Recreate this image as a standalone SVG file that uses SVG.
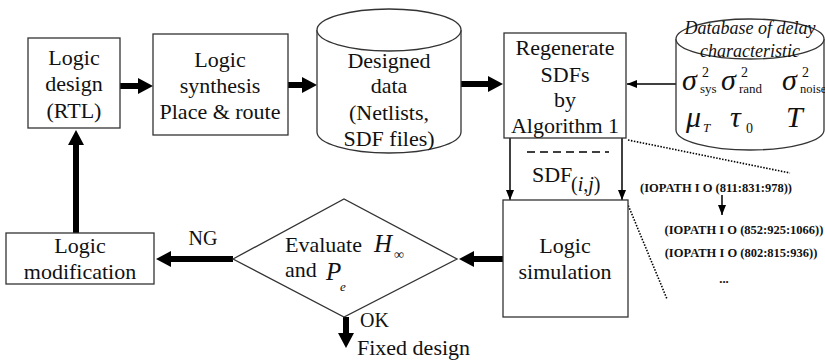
<svg xmlns="http://www.w3.org/2000/svg" width="825" height="362" viewBox="0 0 825 362">
<defs>
<style>
.box{fill:#fff;stroke:#333;stroke-width:1.3}
.t{font-family:"Liberation Serif","Times New Roman",serif;font-size:22px;fill:#111;text-anchor:middle}
.l{text-anchor:start}
.it{font-style:italic}
.thick{stroke:#000;stroke-width:6;fill:none}
.thin{stroke:#000;stroke-width:1.5;fill:none}
.io{font-family:"Liberation Serif","Times New Roman",serif;font-size:12.5px;font-weight:bold;fill:#111;text-anchor:middle}
.dot{stroke:#000;stroke-width:1.6;stroke-dasharray:1.5,1.5;fill:none}
</style>
<marker id="bh" markerUnits="userSpaceOnUse" markerWidth="15" markerHeight="16" refX="0" refY="8" orient="auto" viewBox="0 0 15 16">
<path d="M0,0 L15,8 L0,16 z" fill="#000"/>
</marker>
<marker id="th" markerUnits="userSpaceOnUse" markerWidth="10" markerHeight="8" refX="10" refY="4" orient="auto" viewBox="0 0 10 8">
<path d="M0,0 L10,4 L0,8 z" fill="#000"/>
</marker>
</defs>

<g id="connectors">
<line class="thick" x1="120" y1="86" x2="138" y2="86" marker-end="url(#bh)"/>
<line class="thick" x1="288" y1="85" x2="302" y2="85" marker-end="url(#bh)"/>
<line class="thick" x1="461" y1="84" x2="488" y2="84" marker-end="url(#bh)"/>
<line class="thick" x1="76" y1="233" x2="76" y2="145" marker-end="url(#bh)"/>
<line class="thick" x1="233" y1="259" x2="171" y2="259" marker-end="url(#bh)"/>
<line class="thick" x1="503" y1="259" x2="474" y2="259" marker-end="url(#bh)"/>
<line class="thick" x1="346" y1="317" x2="346" y2="333" marker-end="url(#bh)"/>
<line class="thin" x1="676" y1="84" x2="627" y2="84" marker-end="url(#th)"/>
<line class="thin" x1="510" y1="138" x2="510" y2="200" marker-end="url(#th)"/>
<line class="thin" x1="622" y1="138" x2="622" y2="200" marker-end="url(#th)"/>
<line class="thin" x1="722" y1="195" x2="722" y2="215" marker-end="url(#th)"/>
<line x1="527" y1="152" x2="609" y2="152" stroke="#000" stroke-width="1.5" stroke-dasharray="8,5"/>
<line class="dot" x1="628" y1="140" x2="790" y2="173"/>
<line class="dot" x1="626" y1="200" x2="667" y2="299"/>
</g>

<g id="logic-design">
<rect class="box" x="28" y="38" width="92" height="90"/>
<text class="t" x="74" y="65">Logic</text>
<text class="t" x="74" y="91">design</text>
<text class="t" x="74" y="118">(RTL)</text>
</g>

<g id="logic-synthesis">
<rect class="box" x="153" y="34" width="135" height="101"/>
<text class="t" x="220" y="67">Logic</text>
<text class="t" x="220" y="93">synthesis</text>
<text class="t" x="220" y="119">Place &amp; route</text>
</g>

<g id="designed-data">
<path class="box" d="M317,30 L317,132 A72,21 0 0 0 461,132 L461,30"/>
<ellipse class="box" cx="389" cy="30" rx="72" ry="21"/>
<text class="t" x="389" y="68">Designed</text>
<text class="t" x="389" y="93">data</text>
<text class="t" x="389" y="120">(Netlists,</text>
<text class="t" x="389" y="146">SDF files)</text>
</g>

<g id="regenerate">
<rect class="box" x="504" y="33" width="122" height="105"/>
<text class="t" x="565" y="55">Regenerate</text>
<text class="t" x="565" y="82">SDFs</text>
<text class="t" x="565" y="107">by</text>
<text class="t" x="565" y="133">Algorithm 1</text>
</g>

<g id="sdf-label">
<text class="t l" x="532" y="182">SDF</text>
<text class="t l" x="571" y="191" style="font-size:20px">(<tspan class="it">i</tspan>,<tspan class="it">j</tspan>)</text>
</g>

<g id="database">
<path class="box" d="M676,39 L676,130 A74,20 0 0 0 824,130 L824,39"/>
<ellipse class="box" cx="750" cy="39" rx="74" ry="20"/>
<text class="t it" x="750" y="34" style="font-size:18px">Database of delay</text>
<text class="t it" x="750" y="57" style="font-size:18px">characteristic</text>
<text class="t it l" x="682" y="90" style="font-size:30px">σ</text>
<text class="t l" x="702" y="77" style="font-size:14px">2</text>
<text class="t l" x="700" y="93" style="font-size:13px">sys</text>
<text class="t it l" x="721" y="90" style="font-size:30px">σ</text>
<text class="t l" x="741" y="77" style="font-size:14px">2</text>
<text class="t l" x="739" y="93" style="font-size:13px">rand</text>
<text class="t it l" x="782" y="90" style="font-size:30px">σ</text>
<text class="t l" x="802" y="77" style="font-size:14px">2</text>
<text class="t l" x="800" y="93" style="font-size:12.5px">noise</text>
<text class="t it l" x="686" y="127" style="font-size:30px">μ</text>
<text class="t it l" x="703" y="132" style="font-size:13px">T</text>
<text class="t it l" x="730" y="127" style="font-size:30px">τ</text>
<text class="t l" x="746" y="133" style="font-size:14px">0</text>
<text class="t it l" x="786" y="127" style="font-size:30px">T</text>
</g>

<g id="logic-simulation">
<rect class="box" x="503" y="200" width="125" height="117"/>
<text class="t" x="565" y="253">Logic</text>
<text class="t" x="565" y="279">simulation</text>
</g>

<g id="evaluate">
<polygon class="box" points="233,259 344,199 457,259 344,317"/>
<text class="t l" x="285" y="252">Evaluate</text>
<text class="t it l" x="374" y="252" style="font-size:25px">H</text>
<text class="t l" x="394" y="259" style="font-size:14px">∞</text>
<text class="t l" x="285" y="277">and</text>
<text class="t it l" x="326" y="280" style="font-size:25px">P</text>
<text class="t it l" x="340" y="291" style="font-size:13px">e</text>
</g>

<g id="logic-modification">
<rect class="box" x="6" y="233" width="148" height="51"/>
<text class="t" x="80" y="253">Logic</text>
<text class="t" x="80" y="279">modification</text>
</g>

<g id="labels">
<text class="t" x="203" y="245" style="font-size:20px">NG</text>
<text class="t l" x="360" y="327" style="font-size:20px">OK</text>
<text class="t l" x="357" y="355">Fixed design</text>
</g>

<g id="iopath">
<text class="io" x="716" y="192">(IOPATH I O (811:831:978))</text>
<text class="io" x="744" y="234">(IOPATH I O (852:925:1066))</text>
<text class="io" x="741" y="257">(IOPATH I O (802:815:936))</text>
<text class="io" x="724" y="283">...</text>
</g>
</svg>
